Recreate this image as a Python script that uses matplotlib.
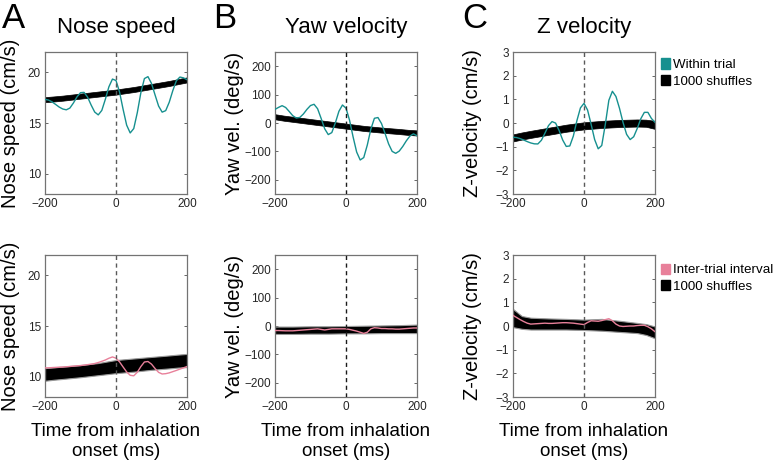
import numpy as np
import matplotlib
matplotlib.use("Agg")
import matplotlib.pyplot as plt
from matplotlib.patches import Patch

plt.rcParams["font.family"] = ["Liberation Sans", "DejaVu Sans"]

# time axis (ms) for the trace lines, and a coarser one for the shuffle bands
t = np.arange(-200, 201, 10)
tb = [-200, -175, -150, -100, -50, 0, 50, 100, 150, 175, 200]

# within-trial traces (top row)
nose_within = [17.33, 17.26, 17.08, 16.83, 16.57, 16.38, 16.30, 16.47, 16.97, 17.57,
               17.99, 18.02, 17.55, 16.77, 16.08, 15.80, 16.24, 17.34, 18.57, 19.33,
               19.19, 18.05, 16.35, 14.79, 14.02, 14.45, 16.02, 17.98, 19.38, 19.57,
               18.90, 17.77, 16.67, 16.07, 16.22, 17.05, 18.19, 19.16, 19.53, 19.45, 19.27]
yaw_within = [48, 55, 61, 54.6, 40.6, 25.8, 17.5, 19.7, 31.8, 48.1,
              61.5, 65.9, 50.2, 15.9, -20.4, -40.8, -33.8, 0.4, 41.1, 63.4,
              52.2, 9.7, -49.1, -102.2, -130.2, -121.7, -77.6, -21.6, 16.6, 19.2,
              -1.9, -36.8, -73.6, -99.9, -106.8, -98.9, -82.4, -62.6, -46.1, -38.2, -45]
z_within = [-0.60, -0.615, -0.658, -0.718, -0.785, -0.843, -0.880, -0.885, -0.73, -0.43,
            -0.11, 0.06, -0.004, -0.32, -0.72, -0.99, -0.97, -0.55, 0.10, 0.64,
            0.83, 0.55, -0.05, -0.70, -1.09, -0.95, -0.06, 0.96, 1.34, 1.12,
            0.62, 0.02, -0.48, -0.70, -0.58, -0.23, 0.18, 0.45, 0.45, 0.19, 0.03]

# inter-trial-interval traces (bottom row)
nose_iti = [10.87, 10.88, 10.90, 10.92, 10.94, 10.95, 10.98, 11.01, 11.04, 11.07,
            11.10, 11.14, 11.19, 11.24, 11.30, 11.40, 11.52, 11.65, 11.82, 11.95,
            11.83, 11.46, 10.96, 10.47, 10.14, 10.09, 10.44, 11.00, 11.45, 11.50,
            11.24, 10.81, 10.43, 10.27, 10.30, 10.38, 10.50, 10.62, 10.75, 10.88, 11.00]
yaw_iti = [-16, -16, -16.5, -17, -17, -17, -16, -15, -14, -13,
           -12, -11, -10, -12, -14, -12, -10, -10, -10, -10,
           -10, -12, -15, -18, -22, -26, -22, -10, -6, -7,
           -9, -9, -10, -10, -11, -11, -10, -9, -8, -7, -7]
z_iti = [0.45, 0.36, 0.27, 0.19, 0.12, 0.08, 0.09, 0.10, 0.11, 0.12,
         0.11, 0.11, 0.12, 0.13, 0.14, 0.14, 0.13, 0.12, 0.10, 0.08,
         0.06, 0.15, 0.22, 0.21, 0.20, 0.23, 0.27, 0.31, 0.22, 0.08,
         0.0, -0.02, -0.01, 0.0, 0.0, 0.02, 0.03, 0.03, -0.03, -0.12, -0.24]

# 1000-shuffle envelopes (low / high)
nose_shuf_w = ([17.05, 17.12, 17.2, 17.4, 17.6, 17.8, 18.05, 18.35, 18.65, 18.83, 19.0],
               [17.55, 17.62, 17.7, 17.9, 18.1, 18.3, 18.55, 18.85, 19.15, 19.33, 19.5])
yaw_shuf_w = ([13, 8, 4, -4, -12, -20, -28, -34, -39, -42, -44],
              [31, 26, 22, 14, 6, -2, -10, -16, -21, -24, -26])
z_shuf_w = ([-0.78, -0.70, -0.63, -0.50, -0.37, -0.27, -0.21, -0.17, -0.15, -0.16, -0.25],
            [-0.48, -0.40, -0.33, -0.20, -0.07, 0.03, 0.09, 0.13, 0.15, 0.14, 0.09])
nose_shuf_i = ([9.6, 9.7, 9.78, 9.95, 10.15, 10.35, 10.5, 10.68, 10.82, 10.9, 10.95],
               [10.85, 10.92, 11.0, 11.15, 11.35, 11.65, 11.8, 11.95, 12.1, 12.18, 12.25])
yaw_shuf_i = ([-28, -28, -28, -27, -27, -26, -26, -25, -25, -25, -25],
              [-2, -2, -2, -1, -1, 0, 1, 2, 3, 4, 5])
z_shuf_i = ([-0.05, -0.12, -0.15, -0.15, -0.15, -0.17, -0.2, -0.25, -0.3, -0.38, -0.52],
            [0.72, 0.42, 0.35, 0.32, 0.3, 0.27, 0.3, 0.22, 0.13, 0.08, -0.02])

TEAL, PINK = "#16908f", "#e8809a"
titles = ["Nose speed", "Yaw velocity", "Z velocity"]
ylabels = ["Nose speed (cm/s)", "Yaw vel. (deg/s)", "Z-velocity (cm/s)"]
ylims = [(8, 22), (-250, 250), (-3, 3)]
yticks = [[10, 15, 20], [-200, -100, 0, 100, 200], [-3, -2, -1, 0, 1, 2, 3]]
lefts = [45, 275, 513]
ylab_x = [-0.178, -0.215, -0.215]
vcol = ["0.35", "0.1", "0.35"]

fig = plt.figure(figsize=(7.76, 4.65), dpi=100)
W, H = 776, 465
rows = [(nose_within, yaw_within, z_within), (nose_iti, yaw_iti, z_iti)]
shufs = [(nose_shuf_w, yaw_shuf_w, z_shuf_w), (nose_shuf_i, yaw_shuf_i, z_shuf_i)]
tops = [52, 255]

for r in range(2):
    for c in range(3):
        ax = fig.add_axes([lefts[c] / W, 1 - (tops[r] + 142) / H, 142 / W, 142 / H])
        lo, hi = shufs[r][c]
        if r == 0:
            ax.fill_between(tb, lo, hi, facecolor="k", edgecolor="k", lw=0.5, zorder=2)
        else:
            ax.fill_between(tb, lo, hi, facecolor="k", edgecolor="0.6", lw=0.8, zorder=2)
        ax.plot(t, rows[r][c], color=TEAL if r == 0 else PINK, lw=1.0, zorder=3)
        ax.axvline(0, color=vcol[c], ls=(0, (3, 2.5)), lw=1.0, zorder=4)
        ax.set_xlim(-200, 200)
        ax.set_ylim(*ylims[c])
        ax.set_xticks([-200, 0, 200])
        ax.set_yticks(yticks[c])
        ax.tick_params(direction="in", length=2.5, width=0.6, labelsize=8.5,
                       colors="0.3", labelcolor="0.15", top=True, right=True, pad=3)
        for s in ax.spines.values():
            s.set_color("0.45")
            s.set_linewidth(0.9)
        ax.set_ylabel(ylabels[c], fontsize=14.5)
        ax.yaxis.set_label_coords(ylab_x[c], 0.5)
        if r == 0:
            ax.set_title(titles[c], fontsize=16, pad=14)
        else:
            ax.set_xlabel("Time from inhalation\nonset (ms)", fontsize=13.5,
                          linespacing=1.2, va="top")
            ax.xaxis.set_label_coords(0.5, -0.185)
        if c == 2:
            if r == 0:
                h = [Patch(color=TEAL), Patch(color="k")]
                labs = ["Within trial", "1000 shuffles"]
                anchor = (1.04, 0.955)
            else:
                h = [Patch(color=PINK), Patch(color="k")]
                labs = ["Inter-trial interval", "1000 shuffles"]
                anchor = (1.04, 0.94)
            ax.legend(h, labs, loc="upper left", bbox_to_anchor=anchor,
                      frameon=False, fontsize=9.6, handlelength=0.7, handleheight=0.8,
                      handletextpad=0.25, labelspacing=0.3, borderpad=0, borderaxespad=0)

for letter, x in zip("ABC", [2, 213, 462]):
    fig.text(x / W, 1 - 2 / H, letter, fontsize=25, va="top", ha="left")

fig.savefig("out.png", dpi=100)
